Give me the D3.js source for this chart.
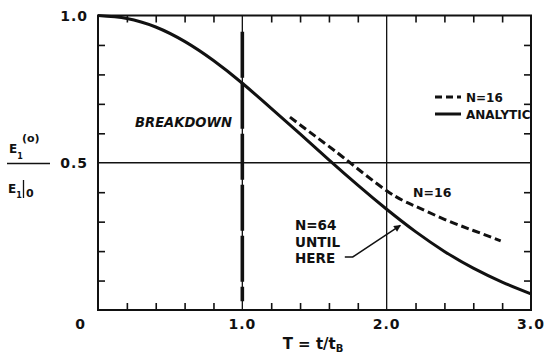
<!DOCTYPE html>
<html>
<head>
<meta charset="utf-8">
<script src="https://cdn.jsdelivr.net/npm/d3@7"></script>
<style>
  body { margin: 0; background: #fff; }
  text { font-family: "DejaVu Sans", sans-serif; font-weight: bold; fill: #111; }
</style>
</head>
<body>
<svg id="chart" width="545" height="353"></svg>
<script>
/* Normalised field energy vs T = t/tB, analytic curve and N=16 run */

// analytic curve (solid)
const analyticT = [0, 0.2, 0.4, 0.6, 0.8, 1.0, 1.2, 1.4, 1.6, 1.8, 2.0, 2.2, 2.4, 2.6, 2.8, 3.0];
const analyticE = [1.0, 0.99, 0.961, 0.912, 0.847, 0.77, 0.685, 0.598, 0.51, 0.424, 0.342, 0.266, 0.199, 0.142, 0.095, 0.055];

// N=16 simulation (dashed)
const n16T = [1.33, 1.5, 1.7, 2.0, 2.2, 2.4, 2.6, 2.79];
const n16E = [0.655, 0.592, 0.518, 0.405, 0.352, 0.308, 0.27, 0.235];

// ticks
const xMinorTicks = [0.2, 0.4, 0.6, 0.8, 1.2, 1.4, 1.6, 1.8, 2.2, 2.4, 2.6, 2.8];
const yMinorTicks = [0.1, 0.2, 0.3, 0.4, 0.6, 0.7, 0.8, 0.9];
const xTickLabels = [1.0, 2.0, 3.0];
const yTickLabels = [1.0, 0.5];
const breakdownT = 1.0;
const gridT = 2.0;
const gridE = 0.5;

const svg = d3.select("#chart");

const x = d3.scaleLinear().domain([0, 3]).range([98, 531]);
const y = d3.scaleLinear().domain([0, 1]).range([310, 15.5]);

const line = d3.line()
  .x((d) => x(d[0]))
  .y((d) => y(d[1]))
  .curve(d3.curveNatural);

// minor ticks, all pointing inward
const tickLen = 7;
function tickAxis(axis, transform) {
  const g = svg.append("g").attr("transform", transform).call(axis);
  g.select(".domain").remove();
  g.selectAll(".tick line").attr("stroke", "#111").attr("stroke-width", 1.6);
  g.selectAll(".tick text").remove();
}
tickAxis(d3.axisBottom(x).tickValues(xMinorTicks).tickSize(-tickLen), `translate(0,${y(0)})`);
tickAxis(d3.axisTop(x).tickValues(xMinorTicks).tickSize(-tickLen), `translate(0,${y(1)})`);
tickAxis(d3.axisLeft(y).tickValues(yMinorTicks).tickSize(-tickLen), `translate(${x(0)},0)`);
tickAxis(d3.axisRight(y).tickValues(yMinorTicks).tickSize(-tickLen), `translate(${x(3)},0)`);

// grid lines
svg.append("line")
  .attr("x1", x(0)).attr("x2", x(3))
  .attr("y1", y(gridE)).attr("y2", y(gridE))
  .attr("stroke", "#111").attr("stroke-width", 1.3);
svg.append("line")
  .attr("x1", x(gridT)).attr("x2", x(gridT))
  .attr("y1", y(0)).attr("y2", y(1))
  .attr("stroke", "#111").attr("stroke-width", 1.3);

// breakdown line: thin full-height plus thick long dashes
svg.append("line")
  .attr("x1", x(breakdownT)).attr("x2", x(breakdownT))
  .attr("y1", y(0)).attr("y2", y(1))
  .attr("stroke", "#111").attr("stroke-width", 1.3);
svg.append("line")
  .attr("x1", x(breakdownT)).attr("x2", x(breakdownT))
  .attr("y1", y(0.945)).attr("y2", y(0.03))
  .attr("stroke", "#111").attr("stroke-width", 3.6)
  .attr("stroke-dasharray", "46,5");

// frame
svg.append("rect")
  .attr("x", x(0)).attr("y", y(1))
  .attr("width", x(3) - x(0)).attr("height", y(0) - y(1))
  .attr("fill", "none").attr("stroke", "#111").attr("stroke-width", 2);

// curves
svg.append("path")
  .datum(analyticT.map((t, i) => [t, analyticE[i]]))
  .attr("d", line)
  .attr("fill", "none").attr("stroke", "#111").attr("stroke-width", 3);

svg.append("path")
  .datum(n16T.map((t, i) => [t, n16E[i]]))
  .attr("d", line)
  .attr("fill", "none").attr("stroke", "#111").attr("stroke-width", 3)
  .attr("stroke-dasharray", "8,4");

// tick labels
svg.selectAll(".xlab")
  .data(xTickLabels)
  .join("text")
  .attr("x", (d) => x(d))
  .attr("y", 329)
  .attr("text-anchor", "middle")
  .attr("font-size", 14)
  .attr("letter-spacing", 1)
  .text((d) => d.toFixed(1));

svg.selectAll(".ylab")
  .data(yTickLabels)
  .join("text")
  .attr("x", 88)
  .attr("y", (d) => y(d) + 5)
  .attr("text-anchor", "end")
  .attr("font-size", 14)
  .attr("letter-spacing", 1)
  .text((d) => d.toFixed(1));

svg.append("text")
  .attr("x", 80).attr("y", 329)
  .attr("text-anchor", "middle")
  .attr("font-size", 14)
  .text("0");

// x axis title
const xt = svg.append("text")
  .attr("x", 313).attr("y", 349)
  .attr("text-anchor", "middle")
  .attr("font-size", 15);
xt.append("tspan").text("T = t/t");
xt.append("tspan").attr("font-size", 10).attr("dy", 3).text("B");

// y axis title (fraction)
const yt = svg.append("g");
const num = yt.append("text").attr("x", 9).attr("y", 153).attr("font-size", 12);
num.append("tspan").text("E");
num.append("tspan").attr("font-size", 8).attr("dy", 6).text("1");
yt.append("text").attr("x", 22).attr("y", 142).attr("font-size", 11).text("(o)");
yt.append("line")
  .attr("x1", 7).attr("x2", 50).attr("y1", 163.5).attr("y2", 163.5)
  .attr("stroke", "#111").attr("stroke-width", 1.5);
const den = yt.append("text").attr("x", 8).attr("y", 193).attr("font-size", 12);
den.append("tspan").text("E");
den.append("tspan").attr("font-size", 8).attr("dy", 5).text("1");
yt.append("line")
  .attr("x1", 23.5).attr("x2", 23.5).attr("y1", 180).attr("y2", 198)
  .attr("stroke", "#111").attr("stroke-width", 1.3);
yt.append("text").attr("x", 26).attr("y", 197).attr("font-size", 11).text("0");

// BREAKDOWN
svg.append("text")
  .attr("x", 135).attr("y", 127)
  .attr("font-size", 14)
  .attr("font-style", "italic")
  .attr("textLength", 97)
  .attr("lengthAdjust", "spacingAndGlyphs")
  .text("BREAKDOWN");

// legend
const legend = [
  { label: "N=16", dash: "7,4", cy: 97 },
  { label: "ANALYTIC", dash: null, cy: 114 },
];
legend.forEach((d) => {
  svg.append("line")
    .attr("x1", 435).attr("x2", 461)
    .attr("y1", d.cy).attr("y2", d.cy)
    .attr("stroke", "#111").attr("stroke-width", 3)
    .attr("stroke-dasharray", d.dash);
  svg.append("text")
    .attr("x", 466).attr("y", d.cy + 5)
    .attr("font-size", 12)
    .text(d.label);
});

// curve label
svg.append("text")
  .attr("x", 413).attr("y", 197)
  .attr("font-size", 12.5)
  .text("N=16");

// N=64 until here annotation
const noteLines = ["N=64", "UNTIL", "HERE"];
svg.selectAll(".note")
  .data(noteLines)
  .join("text")
  .attr("x", 295)
  .attr("y", (d, i) => 230 + i * 16.5)
  .attr("font-size", 13.5)
  .text((d) => d);

const arrowPts = [[1.71, 0.18], [1.765, 0.18], [2.095, 0.287]];
svg.append("defs").append("marker")
  .attr("id", "ah")
  .attr("viewBox", "0 0 10 10")
  .attr("refX", 9).attr("refY", 5)
  .attr("markerWidth", 9).attr("markerHeight", 7)
  .attr("markerUnits", "userSpaceOnUse")
  .attr("orient", "auto")
  .append("path").attr("d", "M0,0 L10,5 L0,10 Z").attr("fill", "#111");
svg.append("path")
  .datum(arrowPts)
  .attr("d", d3.line().x((d) => x(d[0])).y((d) => y(d[1])))
  .attr("fill", "none").attr("stroke", "#111").attr("stroke-width", 1.5)
  .attr("marker-end", "url(#ah)");
</script>
</body>
</html>
